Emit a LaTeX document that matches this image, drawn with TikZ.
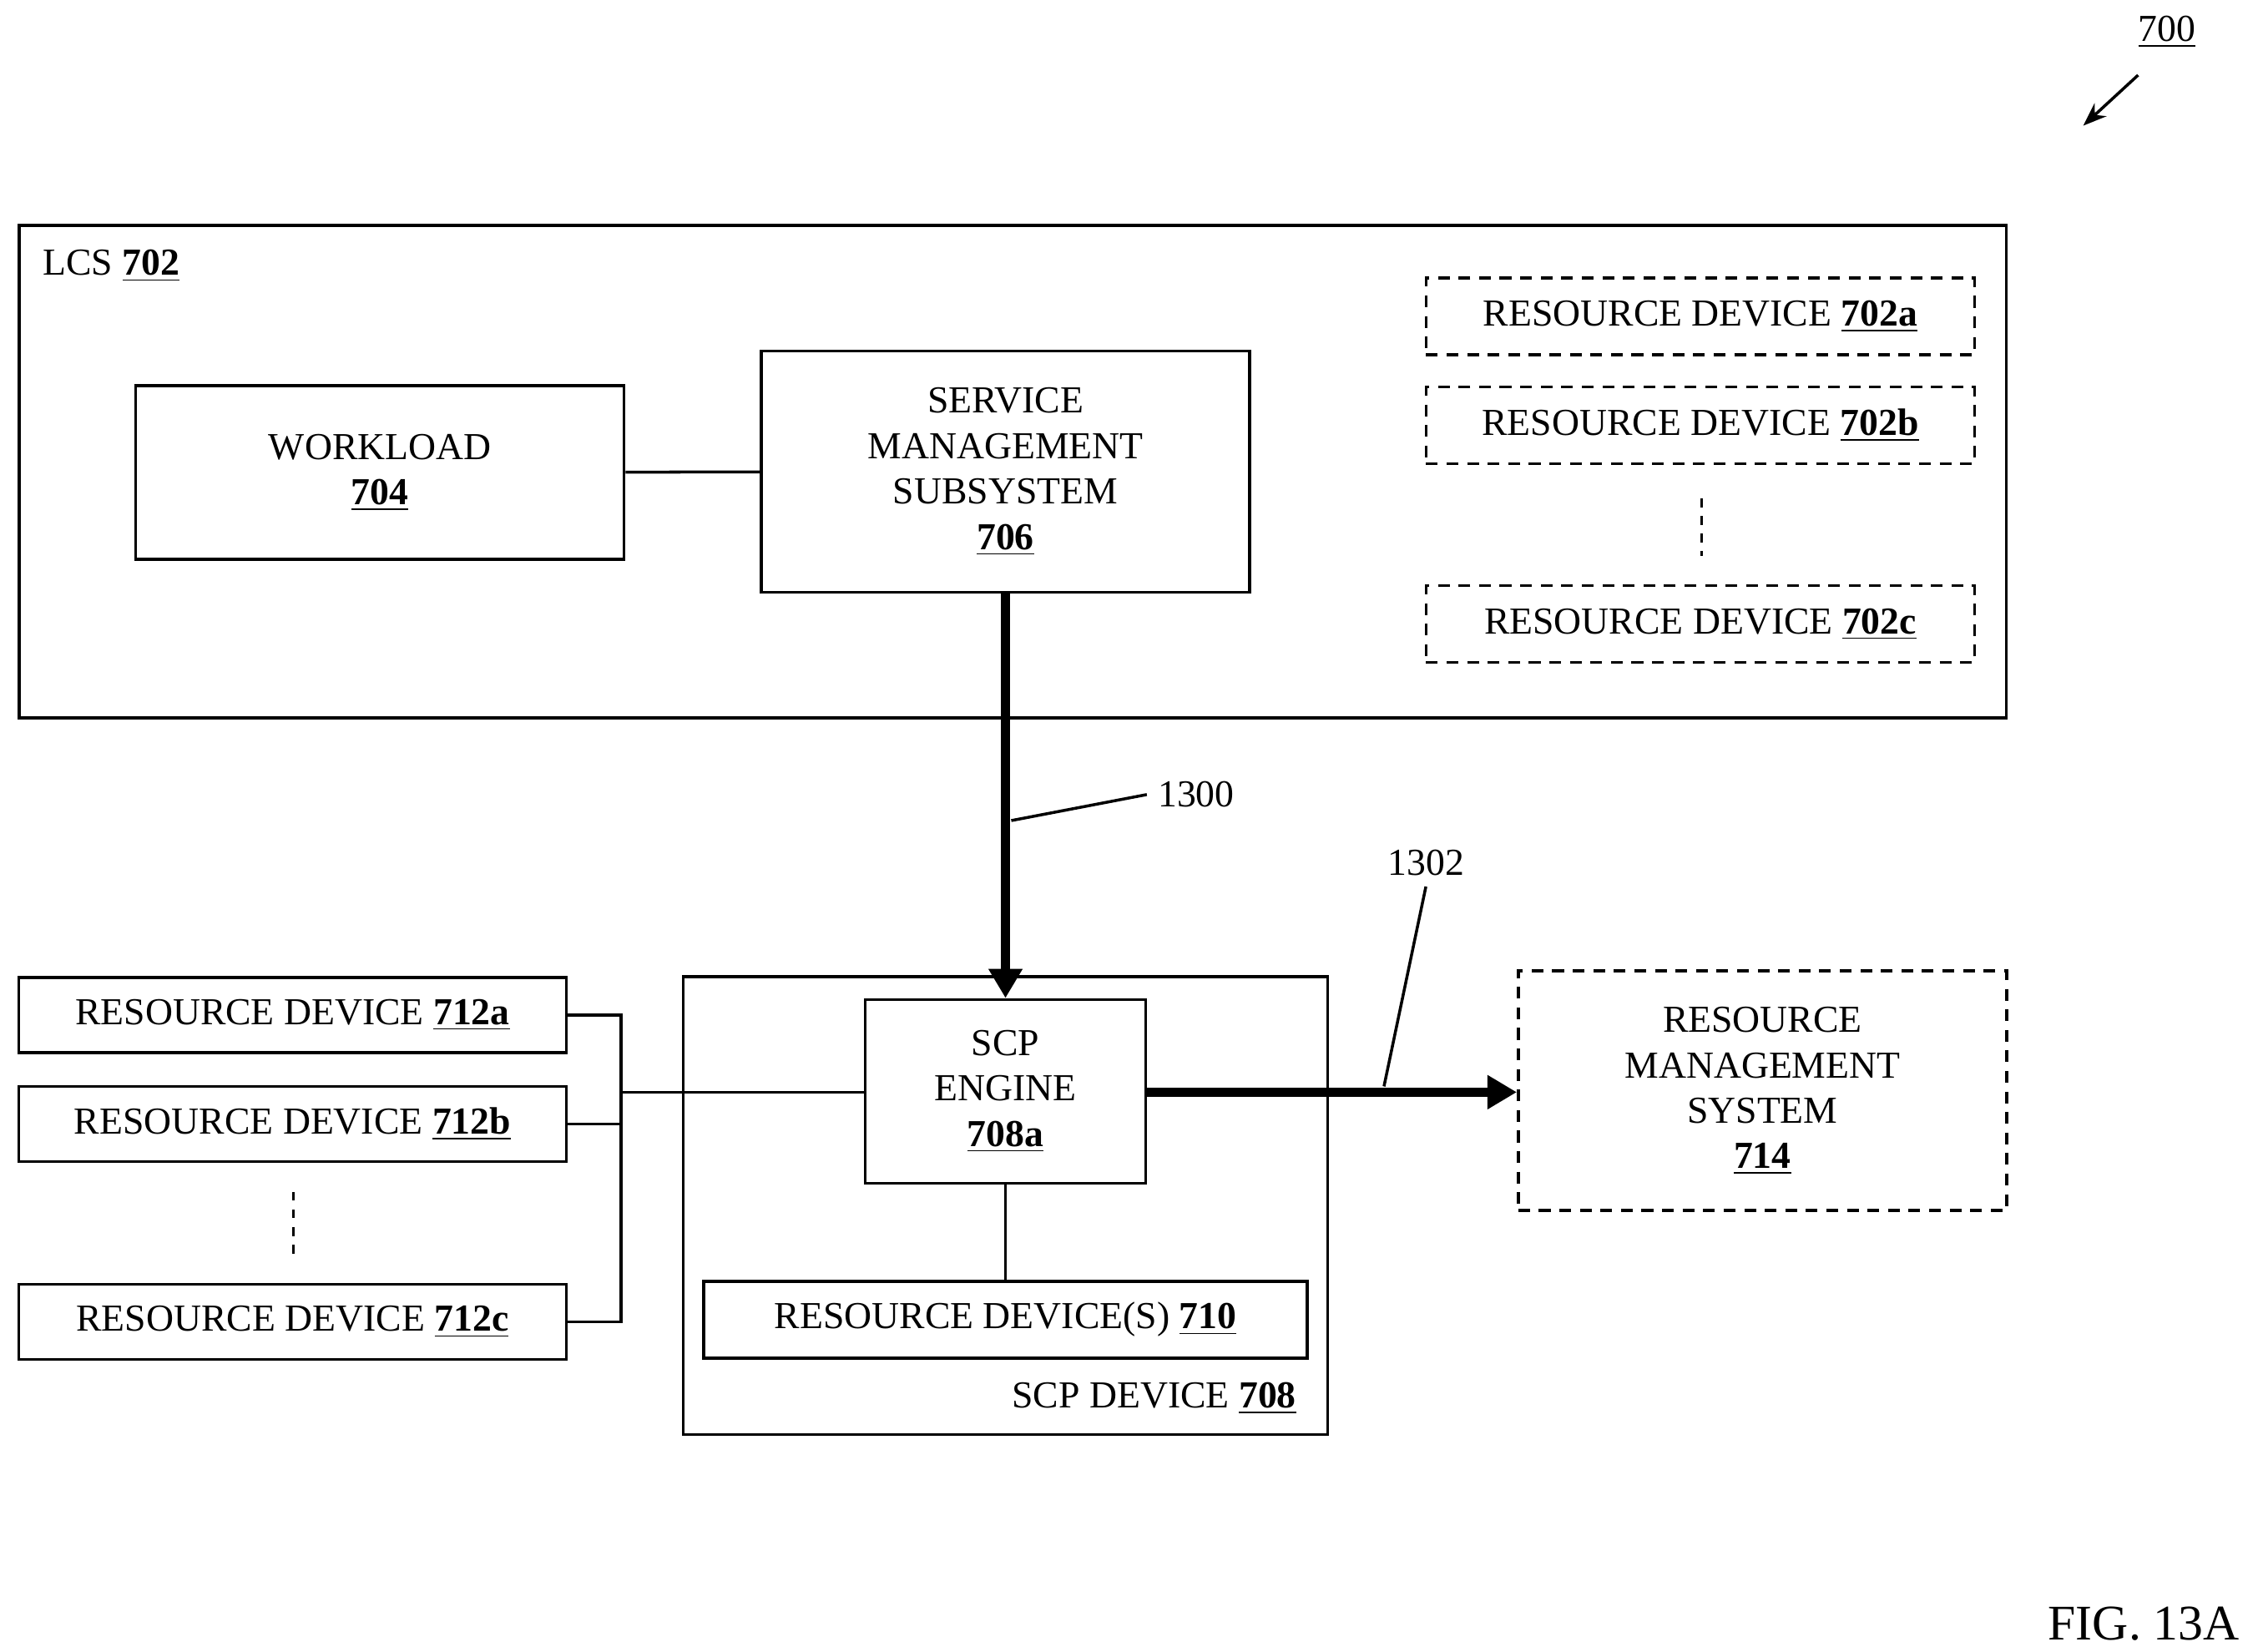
\documentclass[tikz,border=0pt]{standalone}
\usepackage{fontspec}
\setmainfont{Liberation Serif}
\usetikzlibrary{arrows.meta}
\newcommand{\refnum}[1]{\underline{\textbf{#1}}}
\begin{document}
\begin{tikzpicture}[x=0.0173cm, y=-0.0173cm, line width=1pt,
  font=\fontsize{13}{15.5}\selectfont,
  box/.style={draw, align=center, inner sep=0pt},
  dbox/.style={box, dashed, dash pattern=on 4pt off 3pt},
  big/.style={line width=3pt, -{Triangle[length=10pt,width=11pt]}}]
  \useasboundingbox (0,0) rectangle (1563,1143);
  % LCS
  \node[box, minimum width=23.8cm, minimum height=5.9cm] (lcs) at (701,326.5) {};
  \node[anchor=west] (lcsl) at (22,184) {LCS \refnum{702}};
  \node[box, minimum width=5.85cm, minimum height=2.08cm] (wl) at (263,327) {WORKLOAD\\\refnum{704}};
  \node[box, minimum width=5.85cm, minimum height=2.89cm] (sms) at (696,326.5) {SERVICE\\MANAGEMENT\\SUBSYSTEM\\\refnum{706}};
  \node[dbox, minimum width=6.57cm, minimum height=0.92cm] (ra) at (1177,219) {RESOURCE DEVICE \refnum{702a}};
  \node[dbox, minimum width=6.57cm, minimum height=0.92cm] (rb) at (1177,294.5) {RESOURCE DEVICE \refnum{702b}};
  \node[dbox, minimum width=6.57cm, minimum height=0.92cm] (rc) at (1177,432) {RESOURCE DEVICE \refnum{702c}};
  \draw (wl) -- (sms);
  \draw[dashed, dash pattern=on 3pt off 3pt] (1178,345) -- (1178,385);
  % SCP device
  \node[box, minimum width=7.72cm, minimum height=5.48cm] (scp) at (696,834.5) {};
  \node[anchor=east] (scpl) at (905,968) {SCP DEVICE \refnum{708}};
  \node[box, minimum width=3.36cm, minimum height=2.2cm] (eng) at (696,755.5) {SCP\\ENGINE\\\refnum{708a}};
  \node[box, minimum width=7.23cm, minimum height=0.92cm] (r710) at (696,913.5) {RESOURCE DEVICE(S) \refnum{710}};
  \draw (eng) -- (r710);
  % resource devices 712
  \node[box, minimum width=6.56cm, minimum height=0.9cm] (da) at (202.5,702.5) {RESOURCE DEVICE \refnum{712a}};
  \node[box, minimum width=6.56cm, minimum height=0.9cm] (db) at (202.5,778) {RESOURCE DEVICE \refnum{712b}};
  \node[box, minimum width=6.56cm, minimum height=0.9cm] (dc) at (202.5,915) {RESOURCE DEVICE \refnum{712c}};
  \draw[dashed, dash pattern=on 3pt off 3pt] (203,825) -- (203,868);
  \coordinate (bus) at (430,756);
  \draw (da.east) -| (bus) |- (dc.east);
  \draw (db.east) -- (db.east -| bus);
  \draw (bus) -- (eng.west |- bus);
  % resource management system
  \node[dbox, minimum width=5.85cm, minimum height=2.87cm] (rms) at (1220,755) {RESOURCE\\MANAGEMENT\\SYSTEM\\\refnum{714}};
  % flows
  \draw[big] (sms.south) -- (eng.north);
  \draw[big] (eng.east |- 0,756) -- (rms.west |- 0,756);
  \node (l1300) at (828,550) {1300};
  \draw (700,568) -- (l1300.west);
  \node (l1302) at (987,597) {1302};
  \draw (958,752) -- (l1302.south);
  % figure labels
  \node (n700) at (1500,22) {\underline{700}};
  \draw[-{Stealth[length=8pt]}] (1480,52) -- (1442,87);
  \node[font=\fontsize{17}{20}\selectfont] (fig) at (1484,1124) {FIG. 13A};
\end{tikzpicture}
\end{document}
